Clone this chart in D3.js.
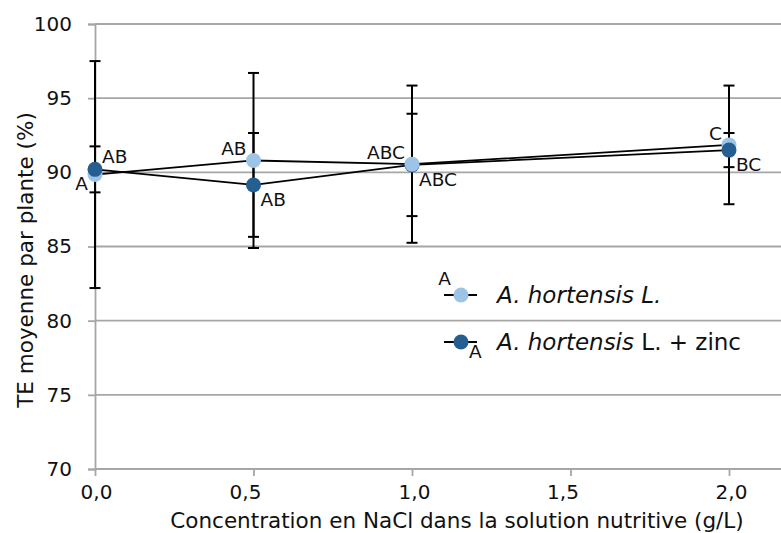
<!DOCTYPE html>
<html>
<head>
<meta charset="utf-8">
<script src="https://cdn.jsdelivr.net/npm/d3@7"></script>
<style>
  html, body { margin: 0; padding: 0; background: #fff; }
  svg { display: block; font-family: "DejaVu Sans", sans-serif; }
</style>
</head>
<body>
<svg id="chart" width="781" height="533"></svg>
<script>
// ---- data ----
const xValues = [0, 0.5, 1.0, 2.0];
const seriesNames = ["A. hortensis L.", "A. hortensis L. + zinc"];
const lightMeans = [89.85, 90.8, 90.55, 91.85];
const lightErrors = [7.65, 5.9, 5.3, 4.0];
const lightLetters = ["A", "AB", "ABC", "C"];
const zincMeans = [90.2, 89.15, 90.5, 91.5];
const zincErrors = [1.55, 3.5, 3.45, 1.15];
const zincLetters = ["AB", "AB", "ABC", "BC"];
const xTicks = [0, 0.5, 1.0, 1.5, 2.0];
const yTicks = [70, 75, 80, 85, 90, 95, 100];
const xTitle = "Concentration en NaCl dans la solution nutritive (g/L)";
const yTitle = "TE moyenne par plante (%)";
const legendLetters = ["A", "A"];

// ---- styling / placement ----
const lightColor = "#9dc3e6";
const zincColor = "#255e91";
const gridColor = "#a6a6a6";
const textColor = "#111";
const lightLabelSide = ["below", "above", "above", "above"];
const zincLabelSide = ["above", "below", "below", "below"];
const topSeries = ["zinc", "zinc", "light", "zinc"];
const xTickLabelNudge = [1, -8.5, 2, -8, 2];

const svg = d3.select("#chart");
const x = d3.scaleLinear().domain([0, 2]).range([95, 729]);
const y = d3.scaleLinear().domain([70, 100]).range([469, 24]);
const plotRight = 781;

// gridlines
svg.append("g").selectAll("line").data(yTicks.filter(d => d > 70)).join("line")
  .attr("x1", x(0)).attr("x2", plotRight)
  .attr("y1", d => y(d)).attr("y2", d => y(d))
  .attr("stroke", gridColor).attr("stroke-width", 1.8);

// y axis
const yAxis = svg.append("g").attr("transform", `translate(${x(0)},0)`)
  .call(d3.axisLeft(y).tickValues(yTicks).tickSize(7).tickPadding(16).tickFormat(d3.format("d")));
yAxis.select(".domain").attr("stroke", gridColor).attr("stroke-width", 1.8);
yAxis.selectAll(".tick line").attr("stroke", gridColor).attr("stroke-width", 1.8);
yAxis.selectAll(".tick text").attr("font-size", 20).attr("fill", textColor)
  .attr("font-family", "DejaVu Sans");

// x axis
const xAxis = svg.append("g").attr("transform", `translate(0,${y(70)})`)
  .call(d3.axisBottom(x).tickValues(xTicks).tickSize(7).tickPadding(9)
    .tickFormat(d => d3.format(".1f")(d).replace(".", ",")));
xAxis.select(".domain").attr("d", `M${x(0)},0H${plotRight}`)
  .attr("stroke", gridColor).attr("stroke-width", 1.8);
xAxis.selectAll(".tick line").attr("stroke", gridColor).attr("stroke-width", 1.8);
xAxis.selectAll(".tick text").attr("font-size", 20).attr("fill", textColor)
  .attr("font-family", "DejaVu Sans")
  .attr("dx", (d, i) => xTickLabelNudge[i]);

// axis titles
svg.append("text").attr("x", 457).attr("y", 528).attr("text-anchor", "middle")
  .attr("font-size", 21.5).attr("fill", textColor).text(xTitle);
svg.append("text").attr("transform", "translate(33,260) rotate(-90)")
  .attr("text-anchor", "middle").attr("font-size", 21.5).attr("fill", textColor).text(yTitle);

const series = [
  { key: "light", means: lightMeans, errs: lightErrors, letters: lightLetters, sides: lightLabelSide, color: lightColor, labelDir: -1 },
  { key: "zinc", means: zincMeans, errs: zincErrors, letters: zincLetters, sides: zincLabelSide, color: zincColor, labelDir: 1 }
];

// lines
const line = d3.line().x((d, i) => x(xValues[i])).y(d => y(d));
series.forEach(s => {
  svg.append("path").attr("d", line(s.means)).attr("fill", "none")
    .attr("stroke", "#000").attr("stroke-width", 1.8);
});

// error bars
series.forEach(s => {
  const g = svg.append("g").attr("stroke", "#000").attr("stroke-width", 2);
  s.means.forEach((m, i) => {
    const cx = x(xValues[i]);
    const lo = y(m - s.errs[i]), hi = y(m + s.errs[i]);
    g.append("line").attr("x1", cx).attr("x2", cx).attr("y1", lo).attr("y2", hi);
    g.append("line").attr("x1", cx - 5.5).attr("x2", cx + 5.5).attr("y1", lo).attr("y2", lo);
    g.append("line").attr("x1", cx - 5.5).attr("x2", cx + 5.5).attr("y1", hi).attr("y2", hi);
  });
});

// markers (order per point)
xValues.forEach((xv, i) => {
  const order = topSeries[i] === "zinc" ? [series[0], series[1]] : [series[1], series[0]];
  order.forEach(s => {
    svg.append("circle").attr("cx", x(xv)).attr("cy", y(s.means[i])).attr("r", 7.5)
      .attr("fill", s.color);
  });
});

// letter labels
series.forEach(s => {
  s.means.forEach((m, i) => {
    const cx = x(xValues[i]), cy = y(m);
    const above = s.sides[i] === "above";
    let dx, dy;
    if (s.labelDir < 0) { dx = -7; dy = above ? -5 : 15; }
    else { dx = 7; dy = above ? -6 : 21; }
    svg.append("text").attr("x", cx + dx).attr("y", cy + dy)
      .attr("text-anchor", s.labelDir < 0 ? "end" : "start")
      .attr("font-size", 18.5).attr("fill", textColor).text(s.letters[i]);
  });
});

// legend
const legendY = [295, 342];
series.forEach((s, k) => {
  const ly = legendY[k], mx = 461;
  svg.append("line").attr("x1", 444).attr("x2", 477).attr("y1", ly).attr("y2", ly)
    .attr("stroke", "#000").attr("stroke-width", 1.8);
  svg.append("circle").attr("cx", mx).attr("cy", ly).attr("r", 7.5).attr("fill", s.color);
  if (k === 0) {
    svg.append("text").attr("x", mx - 10).attr("y", ly - 10).attr("text-anchor", "end")
      .attr("font-size", 18.5).attr("fill", textColor).text(legendLetters[k]);
  } else {
    svg.append("text").attr("x", mx + 8).attr("y", ly + 16).attr("text-anchor", "start")
      .attr("font-size", 18.5).attr("fill", textColor).text(legendLetters[k]);
  }
  const t = svg.append("text").attr("x", 497).attr("y", ly + 8)
    .attr("font-size", 23).attr("fill", textColor);
  if (k === 0) {
    t.append("tspan").attr("font-style", "italic").text(seriesNames[0]);
  } else {
    t.append("tspan").attr("font-style", "italic").text("A. hortensis");
    t.append("tspan").text(seriesNames[1].replace("A. hortensis", ""));
  }
});
</script>
</body>
</html>
